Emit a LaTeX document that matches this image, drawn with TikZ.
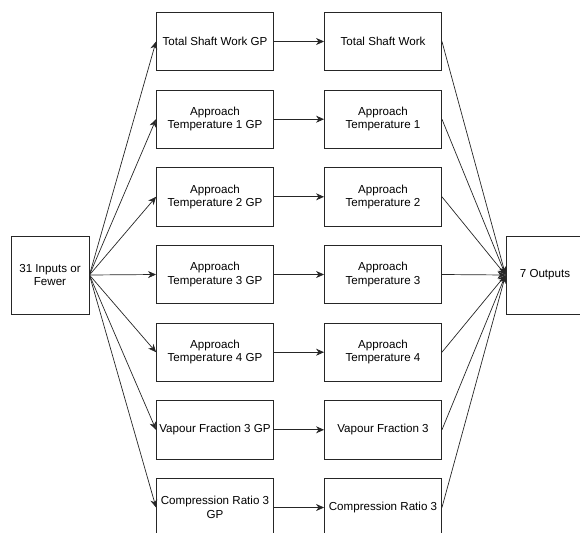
\documentclass[tikz,border=0pt]{standalone}
\usepackage{fontspec}
\setmainfont{Liberation Sans}
\usetikzlibrary{arrows.meta}
\begin{document}
\begin{tikzpicture}[x=1pt,y=-1pt,
  box/.style={draw=black!85,line width=0.9pt,minimum width=117pt,minimum height=58.3pt,align=center,inner sep=1pt,font=\fontsize{11.6}{13.4}\selectfont},
  sq/.style={draw=black!85,line width=0.9pt,minimum width=78pt,minimum height=78pt,align=center,inner sep=1pt,font=\fontsize{11.6}{13.4}\selectfont},
  conn/.style={draw=black!85,line width=0.7pt,-{Stealth[length=8pt,width=7pt,inset=2.5pt]}}]
\useasboundingbox (0,0) rectangle (580,532);
\node[sq] (in) at (50,275) {31 Inputs or\\Fewer};
\node[sq] (out) at (545,275) {7 Outputs};
\node[box] (g1) at (215,41.5) {Total Shaft Work GP};
\node[box] (g2) at (215,119.2) {Approach\\Temperature 1 GP};
\node[box] (g3) at (215,196.8) {Approach\\Temperature 2 GP};
\node[box] (g4) at (215,274.5) {Approach\\Temperature 3 GP};
\node[box] (g5) at (215,352.2) {Approach\\Temperature 4 GP};
\node[box] (g6) at (215,429.8) {Vapour Fraction 3 GP};
\node[box] (g7) at (215,507.5) {Compression Ratio 3\\GP};
\node[box] (o1) at (383,41.5) {Total Shaft Work};
\node[box] (o2) at (383,119.2) {Approach\\Temperature 1};
\node[box] (o3) at (383,196.8) {Approach\\Temperature 2};
\node[box] (o4) at (383,274.5) {Approach\\Temperature 3};
\node[box] (o5) at (383,352.2) {Approach\\Temperature 4};
\node[box] (o6) at (383,429.8) {Vapour Fraction 3};
\node[box] (o7) at (383,507.5) {Compression Ratio 3};
\foreach \i in {1,...,7}{
  \draw[conn] (in.east) -- (g\i.west);
  \draw[conn] (g\i.east) -- (o\i.west);
  \draw[conn] (o\i.east) -- (out.west);
}
\end{tikzpicture}
\end{document}
